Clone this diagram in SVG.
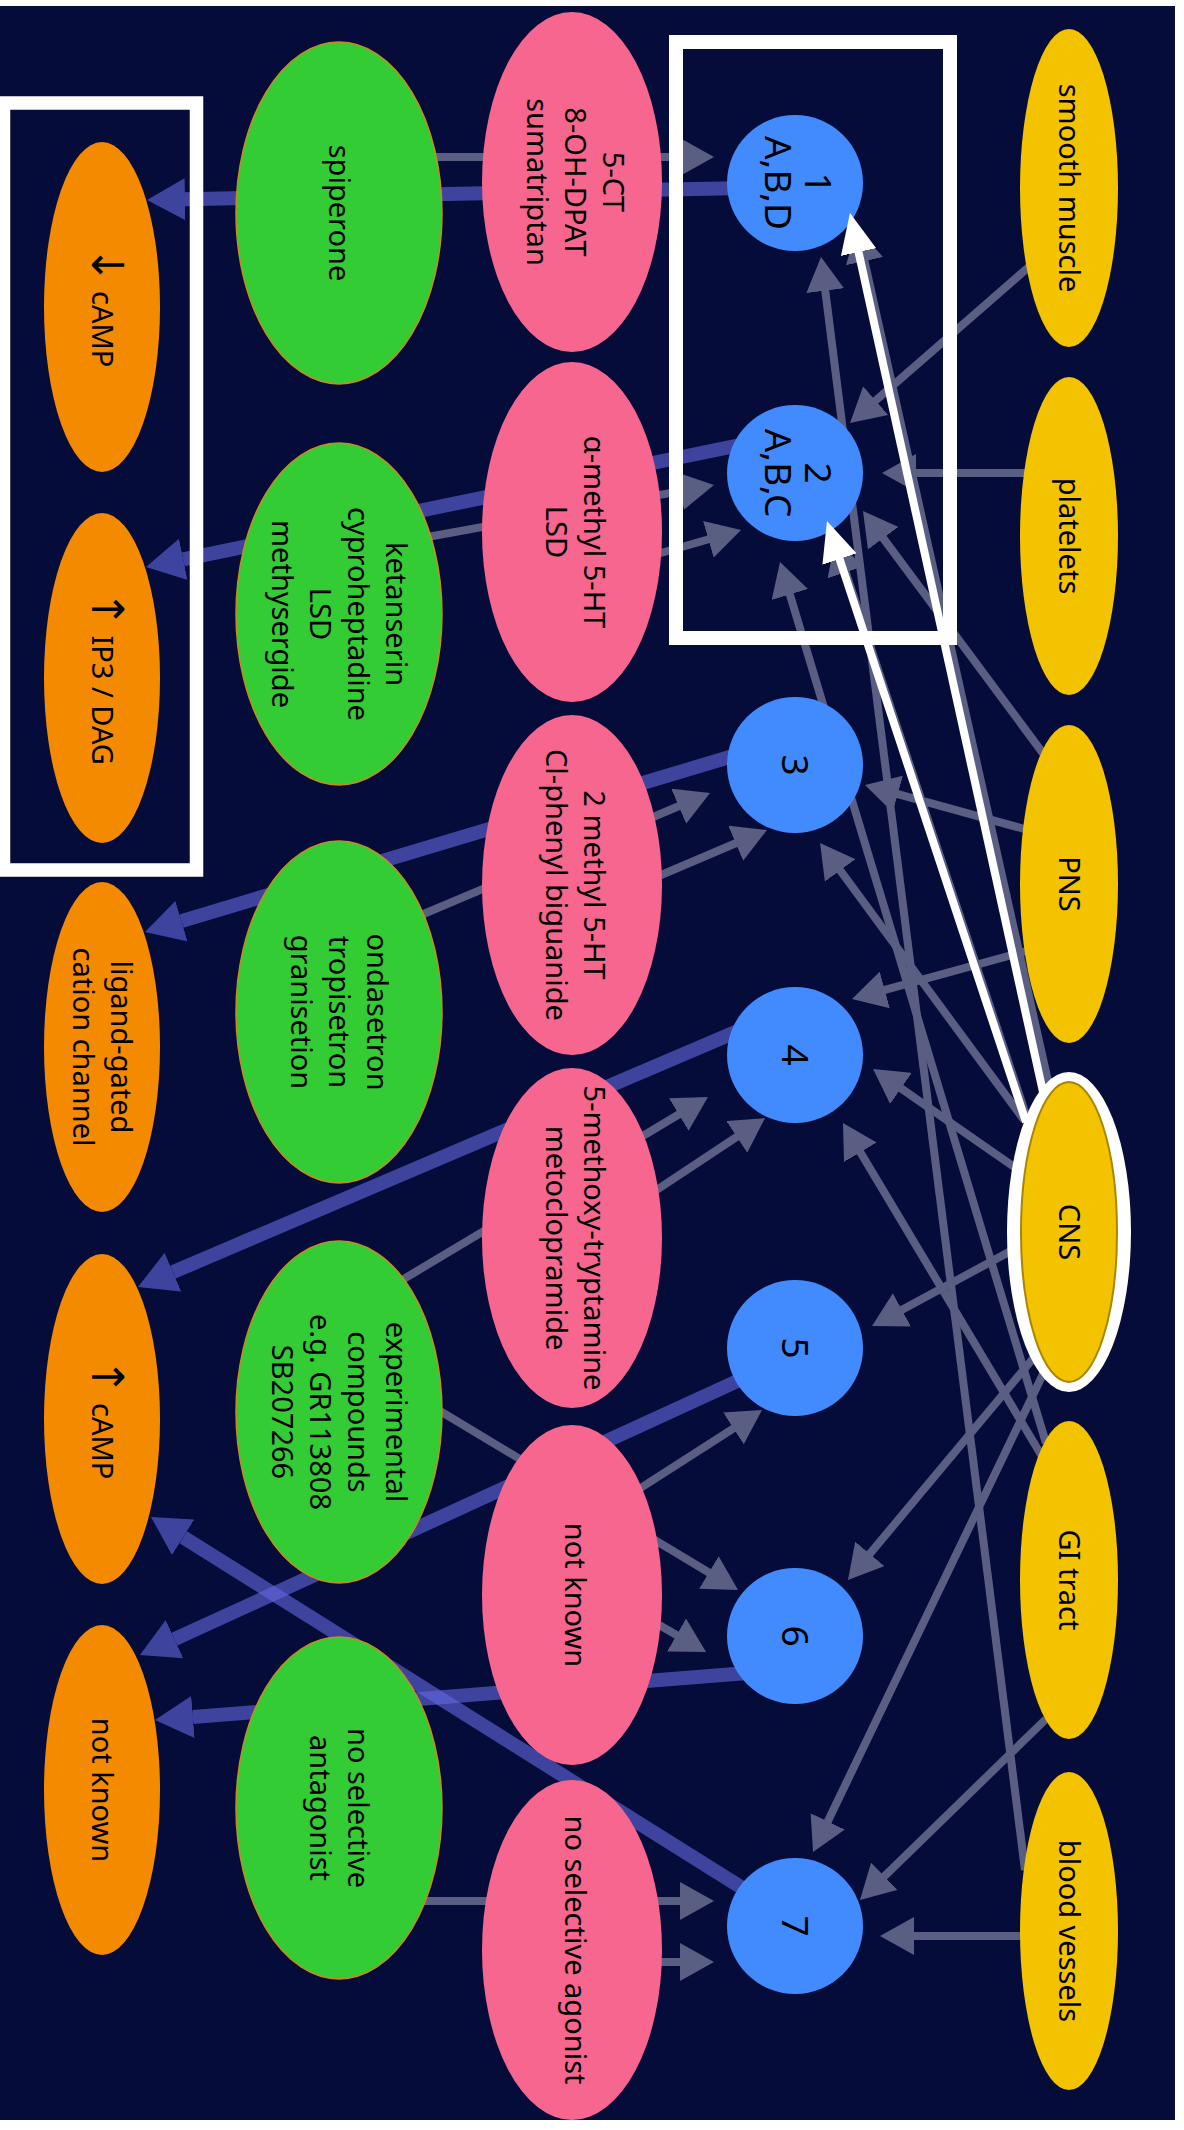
<svg xmlns="http://www.w3.org/2000/svg" width="1184" height="2130" viewBox="0 0 1184 2130">
<style>
.or{fill:#f48a00}
.gr{fill:#34cc34;stroke:#c98a1e;stroke-width:1.5}
.pk{fill:#f6668e}
.bc{fill:#428bff}
.ye{fill:#f3c300}
.t{font-family:"Noto Sans","Open Sans","DejaVu Sans",sans-serif;font-size:29px;fill:#000;text-anchor:middle}
.tc{font-size:37px}
.ar{font-family:"DejaVu Sans",sans-serif;font-size:44px}
.gl{stroke:#5a5e82;stroke-width:8;fill:none;marker-end:url(#ag)}
.bt{stroke:#6469e1;stroke-opacity:0.6;stroke-width:14;fill:none;marker-end:url(#ab)}
.wl{stroke:#fff;stroke-width:8;fill:none;marker-end:url(#aw)}
.fr{fill:none;stroke:#fff}
</style>
<defs>
<marker id="ag" markerUnits="userSpaceOnUse" viewBox="0 0 34 38" markerWidth="34" markerHeight="38" refX="14" refY="19" orient="auto"><path d="M0,0 L34,19 L0,38 z" fill="#5a5e82"/></marker>
<marker id="ab" markerUnits="userSpaceOnUse" viewBox="0 0 38 42" markerWidth="38" markerHeight="42" refX="0" refY="21" orient="auto"><path d="M0,0 L38,21 L0,42 z" fill="#6469e1" fill-opacity="0.6"/></marker>
<marker id="aw" markerUnits="userSpaceOnUse" viewBox="0 0 40 36" markerWidth="40" markerHeight="36" refX="16" refY="18" orient="auto"><path d="M0,0 L40,18 L0,36 z" fill="#fff"/></marker>
</defs>
<rect width="1184" height="2130" fill="#fff"/>
<rect x="0" y="6" width="1175" height="2114" fill="#060c3a"/>

<g id="connectors">
<line class="gl" x1="420" y1="157" x2="694" y2="157"/>
<line class="gl" x1="422" y1="538" x2="694.3" y2="488.6"/>
<line class="gl" x1="640" y1="559" x2="721.8" y2="535.5"/>
<line class="gl" x1="414" y1="918" x2="691.6" y2="800.8"/>
<line class="gl" x1="640" y1="884" x2="748.6" y2="837.8"/>
<line class="gl" x1="392" y1="1286" x2="690.8" y2="1107.3"/>
<line class="gl" x1="643" y1="1199" x2="748.4" y2="1129.1"/>
<line class="gl" x1="625" y1="1498" x2="745.2" y2="1420.8"/>
<line class="gl" x1="430" y1="1405" x2="720.9" y2="1579.7"/>
<line class="gl" x1="640" y1="1614" x2="688.7" y2="1642"/>
<line class="gl" x1="410" y1="1901" x2="694" y2="1901"/>
<line class="gl" x1="630" y1="1962" x2="694" y2="1962"/>

<line class="gl" x1="1031" y1="265" x2="865.1" y2="409.8"/>
<line class="gl" x1="1030" y1="473" x2="902" y2="473"/>
<line class="gl" x1="1045" y1="756" x2="874.9" y2="527"/>
<line class="gl" x1="1028" y1="830" x2="884.3" y2="790.3"/>
<line class="gl" x1="1030" y1="950" x2="871.3" y2="993.7"/>
<line class="gl" x1="1024" y1="1120" x2="831.9" y2="859.1"/>
<line class="gl" x1="1020" y1="1171" x2="889.5" y2="1080.4"/>
<line class="gl" x1="1020" y1="1246" x2="889.6" y2="1316.5"/>
<line class="gl" x1="1036" y1="1355" x2="860.8" y2="1564.6"/>
<line class="gl" x1="1044" y1="1372" x2="821.7" y2="1834"/>
<line class="gl" x1="1046" y1="1443" x2="785.8" y2="581.1"/>
<line class="gl" x1="1043" y1="1458" x2="853.2" y2="1140.2"/>
<line class="gl" x1="1046" y1="1719" x2="874.3" y2="1886.1"/>
<line class="gl" x1="1032" y1="1936" x2="900" y2="1936"/>
<line class="gl" x1="1025" y1="1870" x2="823.5" y2="276.8"/>
<line class="gl" x1="1050" y1="1090" x2="861.4" y2="247.5"/>
<line class="gl" x1="1028" y1="1121" x2="841.3" y2="559"/>

<line class="bt" x1="745" y1="188" x2="185" y2="199.2"/>
<line class="bt" x1="745" y1="444" x2="183.2" y2="559.3"/>
<line class="bt" x1="743" y1="753" x2="181.4" y2="921.1"/>
<line class="bt" x1="745" y1="1028" x2="172.9" y2="1272.1"/>
<line class="bt" x1="755" y1="1373" x2="174.5" y2="1639.2"/>
<line class="bt" x1="760" y1="1672" x2="192.9" y2="1717"/>
<line class="bt" x1="755" y1="1896" x2="183.2" y2="1537.2"/>
</g>

<g id="effectors">
<g id="eff-dec-camp"><ellipse class="or" cx="102" cy="307" rx="58" ry="165"/><text class="t" transform="translate(102 307) rotate(90)" y="10"><tspan class="ar">↓</tspan> cAMP</text></g>
<g id="eff-ip3"><ellipse class="or" cx="102" cy="678" rx="58" ry="165"/><text class="t" transform="translate(102 678) rotate(90)" y="10"><tspan class="ar">↑</tspan> IP3 / DAG</text></g>
<g id="eff-ligand"><ellipse class="or" cx="102" cy="1047" rx="58" ry="165"/><text class="t" transform="translate(102 1047) rotate(90)"><tspan x="0" y="-9">ligand-gated</tspan><tspan x="0" y="29">cation channel</tspan></text></g>
<g id="eff-inc-camp"><ellipse class="or" cx="102" cy="1419" rx="58" ry="165"/><text class="t" transform="translate(102 1419) rotate(90)" y="10"><tspan class="ar">↑</tspan> cAMP</text></g>
<g id="eff-unknown"><ellipse class="or" cx="102" cy="1790" rx="58" ry="165"/><text class="t" transform="translate(102 1790) rotate(90)" y="10">not known</text></g>
</g>

<g id="antagonists">
<g id="ant-1"><ellipse class="gr" cx="339" cy="213" rx="103" ry="171"/><text class="t" transform="translate(339 213) rotate(90)" y="10">spiperone</text></g>
<g id="ant-2"><ellipse class="gr" cx="339" cy="614" rx="103" ry="171"/><text class="t" transform="translate(339 614) rotate(90)"><tspan x="0" y="-47">ketanserin</tspan><tspan x="0" y="-9">cyproheptadine</tspan><tspan x="0" y="29">LSD</tspan><tspan x="0" y="67">methysergide</tspan></text></g>
<g id="ant-3"><ellipse class="gr" cx="339" cy="1012" rx="103" ry="171"/><text class="t" transform="translate(339 1012) rotate(90)"><tspan x="0" y="-28">ondasetron</tspan><tspan x="0" y="10">tropisetron</tspan><tspan x="0" y="48">granisetion</tspan></text></g>
<g id="ant-4"><ellipse class="gr" cx="339" cy="1412" rx="103" ry="171"/><text class="t" transform="translate(339 1412) rotate(90)"><tspan x="0" y="-47">experimental</tspan><tspan x="0" y="-9">compounds</tspan><tspan x="0" y="29">e.g. GR113808</tspan><tspan x="0" y="67">SB207266</tspan></text></g>
<g id="ant-5"><ellipse class="gr" cx="339" cy="1808" rx="103" ry="171"/><text class="t" transform="translate(339 1808) rotate(90)"><tspan x="0" y="-9">no selective</tspan><tspan x="0" y="29">antagonist</tspan></text></g>
</g>

<g id="agonists">
<g id="ago-1"><ellipse class="pk" cx="572" cy="182" rx="90" ry="170"/><text class="t" transform="translate(575 182) rotate(90)"><tspan x="0" y="-28">5-CT</tspan><tspan x="0" y="10">8-OH-DPAT</tspan><tspan x="0" y="48">sumatriptan</tspan></text></g>
<g id="ago-2"><ellipse class="pk" cx="572" cy="532" rx="90" ry="170"/><text class="t" transform="translate(575 532) rotate(90)"><tspan x="0" y="-9">α-methyl 5-HT</tspan><tspan x="0" y="29">LSD</tspan></text></g>
<g id="ago-3"><ellipse class="pk" cx="572" cy="885" rx="90" ry="170"/><text class="t" transform="translate(575 885) rotate(90)"><tspan x="0" y="-9">2 methyl 5-HT</tspan><tspan x="0" y="29">Cl-phenyl biguanide</tspan></text></g>
<g id="ago-4"><ellipse class="pk" cx="572" cy="1238" rx="90" ry="170"/><text class="t" transform="translate(575 1238) rotate(90)"><tspan x="0" y="-9">5-methoxy-tryptamine</tspan><tspan x="0" y="29">metoclopramide</tspan></text></g>
<g id="ago-5"><ellipse class="pk" cx="572" cy="1595" rx="90" ry="170"/><text class="t" transform="translate(575 1595) rotate(90)" y="10">not known</text></g>
<g id="ago-6"><ellipse class="pk" cx="572" cy="1950" rx="90" ry="170"/><text class="t" transform="translate(575 1950) rotate(90)" y="10">no selective agonist</text></g>
</g>

<g id="receptors">
<g id="r1"><circle class="bc" cx="795" cy="183" r="68"/><text class="t tc" transform="translate(795 183) rotate(90)"><tspan x="0" y="-10">1</tspan><tspan x="0" y="30">A,B,D</tspan></text></g>
<g id="r2"><circle class="bc" cx="795" cy="473" r="68"/><text class="t tc" transform="translate(795 473) rotate(90)"><tspan x="0" y="-10">2</tspan><tspan x="0" y="30">A,B,C</tspan></text></g>
<g id="r3"><circle class="bc" cx="795" cy="765" r="68"/><text class="t tc" transform="translate(795 765) rotate(90)" y="13">3</text></g>
<g id="r4"><circle class="bc" cx="795" cy="1055" r="68"/><text class="t tc" transform="translate(795 1055) rotate(90)" y="13">4</text></g>
<g id="r5"><circle class="bc" cx="795" cy="1348" r="68"/><text class="t tc" transform="translate(795 1348) rotate(90)" y="13">5</text></g>
<g id="r6"><circle class="bc" cx="795" cy="1636" r="68"/><text class="t tc" transform="translate(795 1636) rotate(90)" y="13">6</text></g>
<g id="r7"><circle class="bc" cx="795" cy="1926" r="68"/><text class="t tc" transform="translate(795 1926) rotate(90)" y="13">7</text></g>
</g>

<g id="tissues">
<g id="smooth-muscle"><ellipse class="ye" cx="1069" cy="188" rx="49" ry="159"/><text class="t" transform="translate(1069 188) rotate(90)" y="10">smooth muscle</text></g>
<g id="platelets"><ellipse class="ye" cx="1069" cy="536" rx="49" ry="159"/><text class="t" transform="translate(1069 536) rotate(90)" y="10">platelets</text></g>
<g id="pns"><ellipse class="ye" cx="1069" cy="884" rx="49" ry="159"/><text class="t" transform="translate(1069 884) rotate(90)" y="10">PNS</text></g>
<g id="cns"><ellipse cx="1069" cy="1232" rx="62" ry="160" fill="#fff"/><ellipse class="ye" cx="1069" cy="1232" rx="48" ry="150" stroke="#a88600" stroke-width="2"/><text class="t" transform="translate(1069 1232) rotate(90)" y="10">CNS</text></g>
<g id="gi-tract"><ellipse class="ye" cx="1069" cy="1580" rx="49" ry="159"/><text class="t" transform="translate(1069 1580) rotate(90)" y="10">GI tract</text></g>
<g id="blood-vessels"><ellipse class="ye" cx="1069" cy="1931" rx="49" ry="159"/><text class="t" transform="translate(1069 1931) rotate(90)" y="10">blood vessels</text></g>
</g>

<g id="highlights">
<rect class="fr" x="3.5" y="103" width="193" height="767" stroke-width="13.5"/>
<rect class="fr" x="676" y="42" width="274" height="596" stroke-width="14"/>
<line class="wl" x1="1043" y1="1092" x2="855.1" y2="236.4"/>
<line class="wl" x1="1026" y1="1122" x2="834.5" y2="543.8"/>
</g>
</svg>
